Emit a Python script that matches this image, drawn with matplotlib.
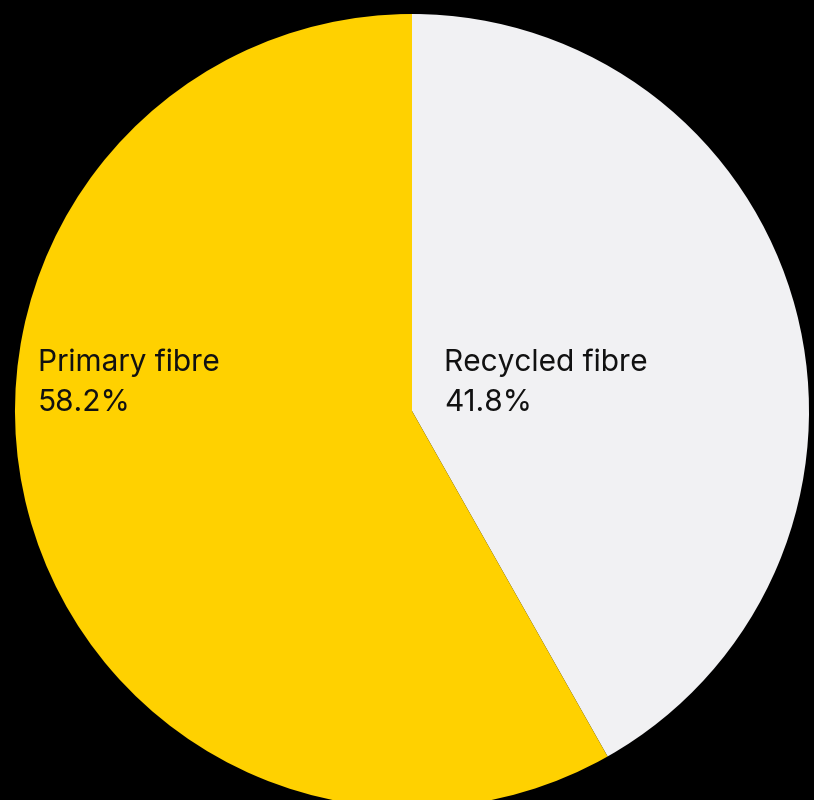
import matplotlib.pyplot as plt

# Fibre mix, clockwise from 12 o'clock
labels = ['Recycled fibre', 'Primary fibre']
shares = [41.8, 58.2]
colors = ['#F1F1F3', '#FFD100']

plt.rcParams['font.family'] = ['Inter', 'DejaVu Sans']

fig = plt.figure(figsize=(8.14, 8.0), dpi=100, facecolor='black')
# pie spans x 15..809 px, y 14..808 px from the top (bottom edge runs off the canvas)
ax = fig.add_axes([15 / 814, (800 - 808) / 800, 794 / 814, 794 / 800])
ax.set_facecolor('black')

wedges, _ = ax.pie(shares, colors=colors, startangle=90, counterclock=False,
                   radius=1.0, wedgeprops=dict(linewidth=0))
ax.set_xlim(-1, 1)
ax.set_ylim(-1, 1)
ax.set_aspect('equal')
ax.axis('off')

# label anchors: x in data units, two baselines 40 px apart
px = 1 / 397.0
label_x = [(444 - 412) * px, (38 - 412) * px]
for name, share, x in zip(labels, shares, label_x):
    ax.text(x, (411 - 371) * px, name, fontsize=21.5, color='#111111',
            ha='left', va='baseline')
    ax.text(x, 0.0, f'{share:.1f}%', fontsize=21.5, color='#111111',
            ha='left', va='baseline')

fig.savefig('out.png', dpi=100, facecolor='black')
